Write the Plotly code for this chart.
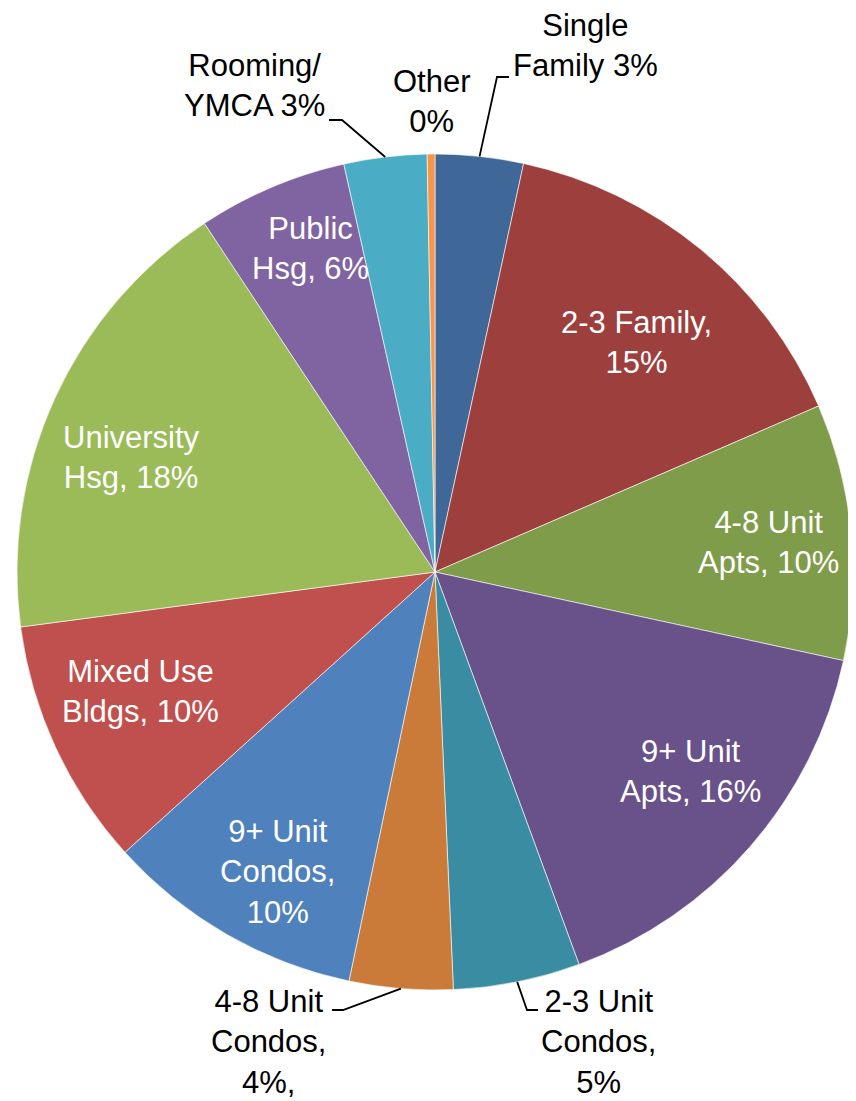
import math

import plotly.graph_objects as go

# ──────────────────────────────────────────────────────────────────────
# Data
# ──────────────────────────────────────────────────────────────────────

CATEGORIES = [
    "Single Family", "2-3 Family", "4-8 Unit Apts", "9+ Unit Apts",
    "2-3 Unit Condos", "4-8 Unit Condos", "9+ Unit Condos", "Mixed Use Bldgs",
    "University Hsg", "Public Hsg", "Rooming/YMCA", "Other",
]
SHARES = [3.4, 15.1, 9.9, 16.0, 4.9, 4.0, 10.0, 9.6, 17.8, 5.8, 3.2, 0.3]
LABEL_TEXT = [
    "Single<br>Family 3%", "2-3 Family,<br>15%", "4-8 Unit<br>Apts, 10%",
    "9+ Unit<br>Apts, 16%", "2-3 Unit<br>Condos,<br>5%", "4-8 Unit<br>Condos,<br>4%,",
    "9+ Unit<br>Condos,<br>10%", "Mixed Use<br>Bldgs, 10%", "University<br>Hsg, 18%",
    "Public<br>Hsg, 6%", "Rooming/<br>YMCA 3%", "Other<br>0%",
]

# ──────────────────────────────────────────────────────────────────────
# Style / layout
# ──────────────────────────────────────────────────────────────────────

COLORS = [
    "#3F6797", "#9D3F3D", "#7F9C4A", "#69518A", "#3A8CA3", "#CB7B39",
    "#4F81BD", "#C0504D", "#9BBB59", "#8064A2", "#4BACC6", "#F79646",
]
# the page body has an 8px margin, so the figure is drawn 8px in from the corner
OFF = 8
W, H = 856 - OFF, 1101 - OFF
CX, CY, R = 435, 572, 418          # in window pixels
FONT = "Liberation Sans, Arial, sans-serif"
FONT_SIZE = 31

# inside labels: (fraction of radius, degrees of turn from the slice mid-angle)
INSIDE = {
    1: (0.73, 1.9), 2: (0.80, 0.6), 3: (0.775, -3.1), 6: (0.81, -2.1),
    7: (0.76, 2.7), 8: (0.775, -3.8), 9: (0.83, 2.0),
}
# outside labels: text centre, and leader elbow/end (window pixels); None = no leader
OUTSIDE = {
    0: ((585, 45), [(497, 77), (509, 77)]),
    4: ((598, 1042), [(527, 1010), (538, 1010)]),
    5: ((268, 1042), [(343, 1010), (332, 1010)]),
    10: ((254, 85), [(342, 120), (329, 120)]),
    11: ((432, 101), None),
}


def px(x, y):
    return (x - OFF) / W, 1 - (y - OFF) / H


x0, y1 = px(CX - R, CY - R)
x1, y0 = px(CX + R, CY + R)

fig = go.Figure(go.Pie(
    labels=CATEGORIES,
    values=SHARES,
    sort=False,
    direction="clockwise",
    rotation=0,
    textinfo="none",
    hoverinfo="label+percent",
    marker=dict(colors=COLORS, line=dict(color="rgba(255,255,255,0.6)", width=1)),
    domain=dict(x=[x0, x1], y=[y0, y1]),
    showlegend=False,
))

total = sum(SHARES)
cum = 0.0
annotations, shapes = [], []
for i, v in enumerate(SHARES):
    mid = (cum + v / 2) / total * 2 * math.pi
    cum += v
    if i in INSIDE:
        f, turn = INSIDE[i]
        a = mid + math.radians(turn)
        x, y = px(CX + R * f * math.sin(a), CY - R * f * math.cos(a))
        annotations.append(dict(
            x=x, y=y, xref="paper", yref="paper", text=LABEL_TEXT[i],
            showarrow=False, xanchor="center", yanchor="middle",
            font=dict(family=FONT, size=FONT_SIZE, color="white"),
        ))
    else:
        (tx, ty), leader = OUTSIDE[i]
        x, y = px(tx, ty)
        annotations.append(dict(
            x=x, y=y, xref="paper", yref="paper", text=LABEL_TEXT[i],
            showarrow=False, xanchor="center", yanchor="middle", align="center",
            font=dict(family=FONT, size=FONT_SIZE, color="black"),
        ))
        if leader:
            pts = [(CX + R * math.sin(mid), CY - R * math.cos(mid))] + leader
            path = "M " + " L ".join(
                f"{px(a, b)[0]:.5f},{px(a, b)[1]:.5f}" for a, b in pts)
            shapes.append(dict(type="path", path=path, xref="paper", yref="paper",
                               line=dict(color="black", width=1.8)))

fig.update_layout(
    width=W, height=H,
    margin=dict(l=0, r=0, t=0, b=0),
    paper_bgcolor="white",
    plot_bgcolor="white",
    annotations=annotations,
    shapes=shapes,
)

fig.write_html("out.html")
